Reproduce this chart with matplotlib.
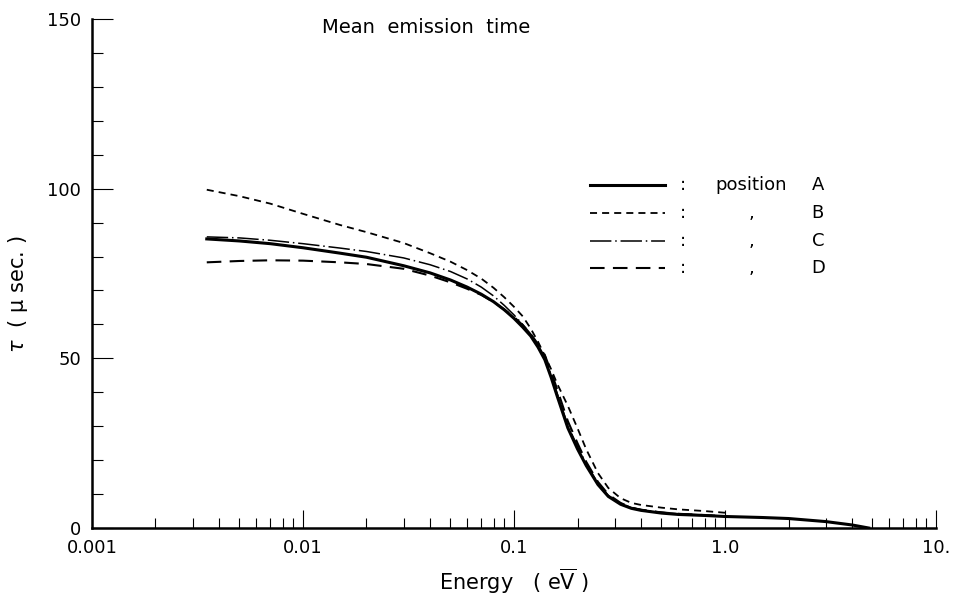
import matplotlib
matplotlib.use("Agg")
import matplotlib.pyplot as plt
from matplotlib.ticker import FixedLocator, LogLocator, NullFormatter, MultipleLocator

plt.rcParams['font.family'] = ['DejaVu Sans']
plt.rcParams['mathtext.fontset'] = 'dejavusans'

# energy grid (eV) shared by the four curves up to 1 eV
energy = [0.0035, 0.005, 0.007, 0.01, 0.015, 0.02, 0.03, 0.04, 0.05, 0.06,
          0.07, 0.08, 0.09, 0.1, 0.11, 0.12, 0.13, 0.14, 0.15, 0.16,
          0.18, 0.2, 0.22, 0.25, 0.28, 0.32, 0.36, 0.4, 0.5, 0.6, 0.8, 1.0]
# position A runs further out
energy_a = energy + [1.5, 2.0, 3.0, 4.0, 4.8]

tau_a = [85.2, 84.6, 83.8, 82.6, 81.0, 79.8, 77.3, 75.2, 73.1, 71.0,
         68.9, 66.7, 64.3, 61.8, 59.2, 56.6, 53.3, 49.6, 44.4, 39.0,
         29.5, 23.3, 18.4, 12.8, 9.3, 7.0, 5.8, 5.2, 4.4, 4.0, 3.7, 3.4,
         3.1, 2.8, 1.9, 0.9, 0.0]
tau_b = [99.7, 97.8, 95.6, 92.6, 89.3, 87.2, 84.0, 81.0, 78.5, 76.0,
         73.5, 70.8, 68.0, 65.2, 62.4, 58.8, 54.9, 50.8, 46.8, 42.6,
         36.0, 29.4, 23.2, 16.2, 11.8, 8.8, 7.4, 6.8, 6.0, 5.5, 5.0, 4.5]
tau_c = [85.8, 85.5, 84.8, 83.8, 82.5, 81.5, 79.6, 77.6, 75.6, 73.4,
         71.0, 68.4, 65.6, 62.8, 60.0, 57.2, 54.0, 50.4, 45.0, 39.8,
         30.3, 24.0, 19.0, 13.2, 9.6, 7.3, 6.0, 5.4, 4.6, 4.2, 3.8, 3.5]
tau_d = [78.3, 78.7, 78.9, 78.8, 78.3, 77.8, 76.4, 74.4, 72.4, 70.5,
         68.7, 66.6, 64.4, 62.2, 59.8, 57.2, 54.2, 51.0, 46.0, 41.0,
         31.5, 25.0, 19.5, 13.6, 9.9, 7.4, 6.0, 5.4, 4.6, 4.2, 3.8, 3.5]

xticks = [0.001, 0.01, 0.1, 1.0, 10.0]
xticklabels = ['0.001', '0.01', '0.1', '1.0', '10.']
yticks = [0, 50, 100, 150]

styles = {
    'A': dict(ls='-', lw=2.2),
    'B': dict(ls=(0, (3.9, 2.8)), lw=1.3),
    'C': dict(ls=(0, (14, 2.5, 1, 2.5)), lw=1.1),
    'D': dict(ls=(0, (7, 4)), lw=1.5),
}

fig = plt.figure(figsize=(9.55, 5.99), dpi=100)
ax = fig.add_axes([0.0963, 0.1185, 0.8838, 0.8497])

ax.plot(energy_a, tau_a, color='black', **styles['A'])
ax.plot(energy, tau_b, color='black', **styles['B'])
ax.plot(energy, tau_c, color='black', **styles['C'])
ax.plot(energy, tau_d, color='black', **styles['D'])

ax.set_xscale('log')
ax.set_xlim(0.001, 10)
ax.set_ylim(0, 150)

ax.spines['top'].set_visible(False)
ax.spines['right'].set_visible(False)
ax.spines['left'].set_linewidth(1.8)
ax.spines['bottom'].set_linewidth(1.8)

ax.xaxis.set_major_locator(FixedLocator(xticks))
ax.set_xticklabels(xticklabels)
ax.xaxis.set_minor_locator(LogLocator(base=10, subs=range(2, 10)))
ax.xaxis.set_minor_formatter(NullFormatter())
ax.yaxis.set_major_locator(FixedLocator(yticks))
ax.yaxis.set_minor_locator(MultipleLocator(10))

ax.tick_params(axis='x', which='major', direction='in', length=13, width=0.8, pad=8, labelsize=13)
ax.tick_params(axis='x', which='minor', direction='in', length=7, width=0.8)
ax.tick_params(axis='y', which='major', direction='in', length=15, width=0.8, pad=8, labelsize=13)
ax.tick_params(axis='y', which='minor', direction='in', length=8, width=0.8)

ax.set_xlabel('Energy   ( e$\\overline{\\mathsf{V}}$ )', fontsize=15, labelpad=7)
ax.set_ylabel('$\\tau$  ( μ sec. )', fontsize=15)
ax.yaxis.set_label_coords(-0.073, 0.46)

ax.text(0.396, 0.984, 'Mean  emission  time', transform=ax.transAxes,
        ha='center', va='center', fontsize=14)

# key: sample line, colon, "position" with ditto marks, letter
rows = [('A', 'position'), ('B', ','), ('C', ','), ('D', ',')]
row_y = [0.674, 0.619, 0.564, 0.511]
for (name, word), y in zip(rows, row_y):
    ax.plot([0.590, 0.679], [y, y], transform=ax.transAxes, color='black',
            clip_on=False, **styles[name])
    ax.text(0.700, y, ':', transform=ax.transAxes, ha='center', va='center', fontsize=13)
    ax.text(0.781, y, word, transform=ax.transAxes, ha='center', va='center', fontsize=13)
    ax.text(0.860, y, name, transform=ax.transAxes, ha='center', va='center', fontsize=13)

fig.savefig('out.png', dpi=100)
